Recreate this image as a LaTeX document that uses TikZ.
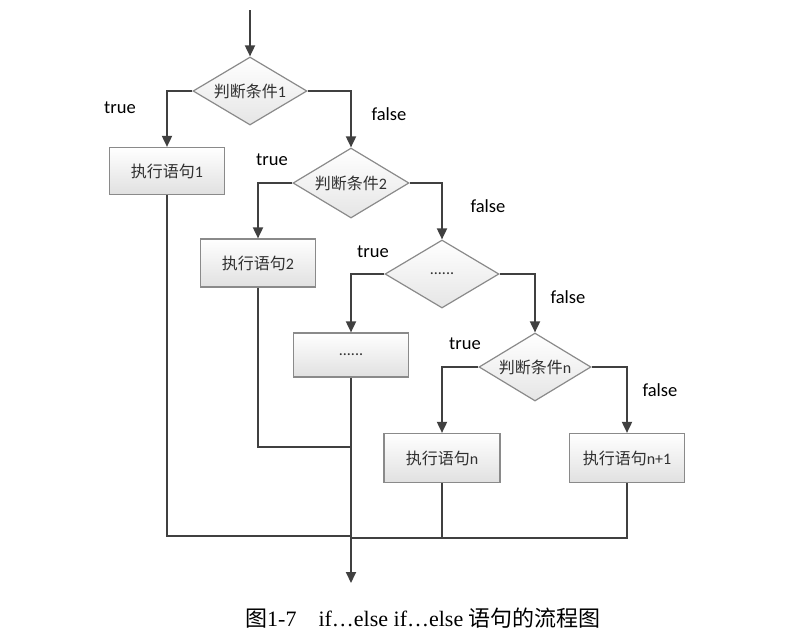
\documentclass[tikz,border=0pt]{standalone}
\usepackage{fontspec}
\setmainfont{Carlito}
\newfontfamily\cjk{Noto Sans CJK SC}
\newfontfamily\capfont{Liberation Serif}
\usetikzlibrary{shapes.geometric,arrows.meta}
\definecolor{linec}{HTML}{404040}
\definecolor{borderc}{HTML}{8A8A8A}
\definecolor{txtc}{HTML}{303030}
\tikzset{
  box/.style={draw=borderc, line width=1.2pt, top color=white, bottom color=black!12,
    minimum width=115pt, minimum height=47pt, inner sep=0pt, text=txtc,
    font=\fontsize{16}{18}\selectfont},
  cond/.style={diamond, draw=borderc, line width=1.2pt, top color=white, bottom color=black!10,
    minimum width=114pt, minimum height=68pt, inner sep=0pt, shape aspect=1.68, text=txtc,
    font=\fontsize{16}{18}\selectfont},
  arr/.style={draw=linec, line width=1.8pt, -{Triangle[length=11pt,width=10pt]}},
  conn/.style={draw=linec, line width=1.6pt},
  lab/.style={font=\fontsize{18.5}{20}\selectfont, text=black, inner sep=0pt},
}
\begin{document}
\begin{tikzpicture}[x=1pt,y=-1pt]
\useasboundingbox (0,0) rectangle (812,638);
\node[cond] (d1) at (250,91) {{\cjk 判断条件}1};
\node[cond, minimum width=116pt, minimum height=70pt] (d2) at (351,183) {{\cjk 判断条件}2};
\node[cond] (d3) at (442,274) {......};
\node[cond, minimum width=112pt] (d4) at (535,367) {{\cjk 判断条件}n};
\node[box] (b1) at (167,171) {{\cjk 执行语句}1};
\node[box, minimum height=48pt] (b2) at (258,263) {{\cjk 执行语句}2};
\node[box, minimum height=44pt] (b3) at (351,355) {......};
\node[box, minimum width=116pt, minimum height=49pt] (bn) at (442,458) {{\cjk 执行语句}n};
\node[box, minimum height=49pt] (bn1) at (627,458) {{\cjk 执行语句}n+1};
\coordinate (start) at (250,10);
\coordinate (end) at (351,583);
\coordinate (j1) at (351,536);
\coordinate (j2) at (351,447);
\coordinate (j3) at (351,538);
\draw[arr] (start) -- (d1.north);
\draw[arr] (d1.west) -| (b1.north);
\draw[arr] (d1.east) -| (d2.north);
\draw[arr] (d2.west) -| (b2.north);
\draw[arr] (d2.east) -| (d3.north);
\draw[arr] (d3.west) -| (b3.north);
\draw[arr] (d3.east) -| (d4.north);
\draw[arr] (d4.west) -| (bn.north);
\draw[arr] (d4.east) -| (bn1.north);
\draw[arr] (b3.south) -- (end);
\draw[conn] (b1.south) |- (j1);
\draw[conn] (b2.south) |- (j2);
\draw[conn] (bn.south) |- (j3);
\draw[conn] (bn1.south) |- (j3);
\node[lab] (t1) at (120,108) {true};
\node[lab] (f1) at (389,114) {false};
\node[lab] (t2) at (272,160) {true};
\node[lab] (f2) at (488,206) {false};
\node[lab] (t3) at (373,252) {true};
\node[lab] (f3) at (568,297) {false};
\node[lab] (t4) at (465,344) {true};
\node[lab] (f4) at (660,390) {false};
\node[inner sep=0pt, font=\fontsize{22}{24}\selectfont\capfont] (cap) at (423,618)
  {{\cjk 图}1-7{\cjk 　}if…else if…else {\cjk 语句的流程图}};
\end{tikzpicture}
\end{document}
